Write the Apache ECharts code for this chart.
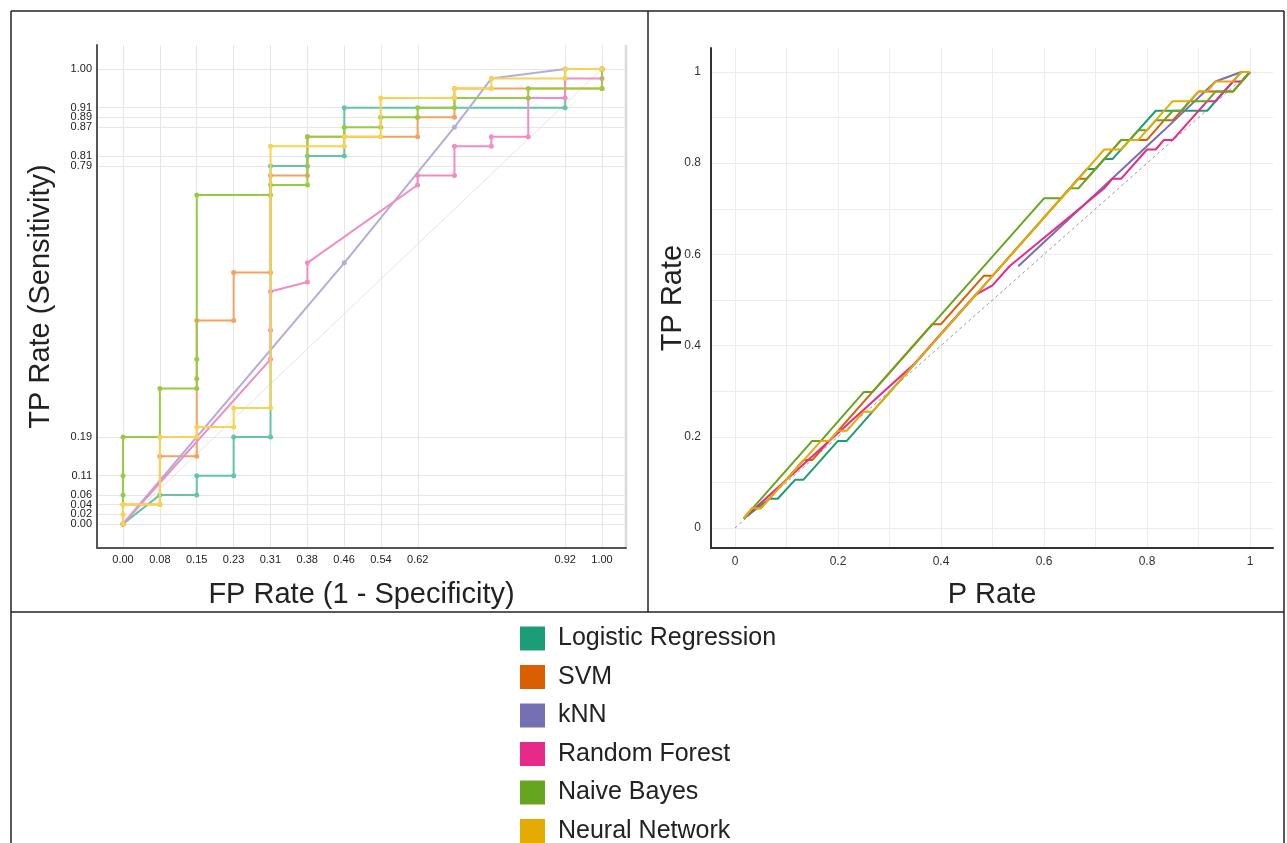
<!DOCTYPE html>
<html>
<head>
<meta charset="utf-8">
<script src="https://cdn.jsdelivr.net/npm/echarts@6/dist/echarts.min.js"></script>
<style>
  html, body { margin: 0; padding: 0; background: #fff; }
  #chart { width: 1287px; height: 843px; }
</style>
</head>
<body>
<div id="chart"></div>
<script>
// model names (legend order)
const models = ['Logistic Regression', 'SVM', 'kNN', 'Random Forest', 'Naive Bayes', 'Neural Network'];

// tick labels
const leftXTicks = [0, 0.0769, 0.1538, 0.2308, 0.3077, 0.3846, 0.4615, 0.5385, 0.6154, 0.9231, 1];
const leftYTicks = [0, 0.0213, 0.0426, 0.0638, 0.1064, 0.1915, 0.7872, 0.8085, 0.8723, 0.8936, 0.9149, 1];
const rightLabelTicks = [0, 0.2, 0.4, 0.6, 0.8, 1];
const rightGridTicks = [0, 0.1, 0.2, 0.3, 0.4, 0.5, 0.6, 0.7, 0.8, 0.9, 1];

// ROC points [FP rate, TP rate]
const rocLR = [[0,0],[.077,.064],[.154,.064],[.154,.106],[.231,.106],[.231,.191],[.308,.191],[.308,.787],[.385,.787],[.385,.809],[.462,.809],[.462,.915],[.923,.915],[.923,1],[1,1]];
const rocSVM = [[0,0],[0,.043],[.077,.043],[.077,.149],[.154,.149],[.154,.447],[.231,.447],[.231,.553],[.308,.553],[.308,.766],[.385,.766],[.385,.851],[.615,.851],[.615,.894],[.692,.894],[.692,.957],[1,.957],[1,1]];
const rocKNN = [[0,0],[.462,.574],[.692,.872],[.769,.979],[.923,1],[1,1]];
const rocRF = [[0,0],[.308,.362],[.308,.426],[.308,.511],[.385,.532],[.385,.574],[.615,.745],[.615,.766],[.692,.766],[.692,.830],[.769,.830],[.769,.851],[.846,.851],[.846,.936],[.923,.936],[.923,.979],[1,.979],[1,1]];
const rocNB = [[0,0],[0,.064],[0,.106],[0,.191],[.077,.191],[.077,.298],[.154,.298],[.154,.319],[.154,.362],[.154,.723],[.308,.723],[.308,.745],[.385,.745],[.385,.851],[.462,.851],[.462,.872],[.538,.872],[.538,.894],[.615,.894],[.615,.915],[.692,.915],[.692,.936],[.846,.936],[.846,.957],[1,.957],[1,1]];
const rocNN = [[0,0],[0,.021],[0,.043],[.077,.043],[.077,.191],[.154,.191],[.154,.213],[.231,.213],[.231,.255],[.308,.255],[.308,.830],[.462,.830],[.462,.851],[.538,.851],[.538,.936],[.692,.936],[.692,.957],[.769,.957],[.769,.979],[.923,.979],[.923,1],[1,1]];

// P rate vs TP rate curves
const gainLR = [[.017,.021],[.067,.064],[.083,.064],[.117,.106],[.133,.106],[.2,.191],[.217,.191],[.683,.787],[.7,.787],[.717,.809],[.733,.809],[.817,.915],[.917,.915],[.983,1],[1,1]];
const gainSVM = [[.017,.021],[.033,.043],[.05,.043],[.133,.149],[.15,.149],[.383,.447],[.4,.447],[.483,.553],[.5,.553],[.667,.766],[.683,.766],[.75,.851],[.8,.851],[.833,.894],[.85,.894],[.9,.957],[.967,.957],[1,1]];
const gainKNN = [[.55,.574],[.833,.872],[.933,.979],[.983,1],[1,1]];
const gainRF = [[.017,.021],[.35,.362],[.4,.426],[.467,.511],[.5,.532],[.533,.574],[.717,.745],[.733,.766],[.75,.766],[.8,.830],[.817,.830],[.833,.851],[.85,.851],[.917,.936],[.933,.936],[.967,.979],[.983,.979],[1,1]];
const gainNB = [[.017,.021],[.15,.191],[.167,.191],[.25,.298],[.267,.298],[.6,.723],[.633,.723],[.65,.745],[.667,.745],[.75,.851],[.767,.851],[.783,.872],[.8,.872],[.817,.894],[.833,.894],[.85,.915],[.867,.915],[.883,.936],[.917,.936],[.933,.957],[.967,.957],[1,1]];
const gainNN = [[.017,.021],[.033,.043],[.05,.043],[.167,.191],[.183,.191],[.2,.213],[.217,.213],[.25,.255],[.267,.255],[.717,.830],[.75,.830],[.767,.851],[.783,.851],[.85,.936],[.883,.936],[.9,.957],[.917,.957],[.933,.979],[.967,.979],[.983,1],[1,1]];

const diag = [[0,0],[1,1]];

const rocData = [rocLR, rocSVM, rocKNN, rocRF, rocNB, rocNN];
const gainData = [gainLR, gainSVM, gainKNN, gainRF, gainNB, gainNN];

// colours: Dark2 on the right / legend, lighter tones on the left
const darkColors = ['#1b9e77', '#d95f02', '#7570b3', '#e7298a', '#66a61e', '#e6ab02'];
const lightColors = ['#62c6a2', '#f4a263', '#b4addb', '#f08dc2', '#98cb45', '#f8d252'];

const font = '"Liberation Sans", Arial, sans-serif';
const lbl = v => (+v).toFixed(2);
const lblShort = v => String(+(+v).toFixed(1));

// the left y labels sit 10px apart, so they are split over two stacked axes
const leftYLabelsA = leftYTicks.filter((v, i) => i % 2 === 0);
const leftYLabelsB = leftYTicks.filter((v, i) => i % 2 === 1);

const chart = echarts.init(document.getElementById('chart'));

const series = [];
// left: faint chance line
series.push({
  type: 'line', xAxisIndex: 0, yAxisIndex: 0, data: diag, silent: true,
  symbol: 'none', lineStyle: { color: '#e4e4e4', width: 1 }, z: 1
});
rocData.forEach((d, i) => {
  series.push({
    name: models[i], type: 'line', xAxisIndex: 0, yAxisIndex: 0, data: d,
    symbol: 'circle', symbolSize: 5, showSymbol: true,
    itemStyle: { color: lightColors[i] },
    lineStyle: { color: lightColors[i], width: 2 }, z: 2 + i
  });
});
// right: dashed reference line
series.push({
  type: 'line', xAxisIndex: 1, yAxisIndex: 1, data: diag, silent: true,
  symbol: 'none', lineStyle: { color: '#9a9a9a', width: 1, type: [3, 3] }, z: 1
});
gainData.forEach((d, i) => {
  series.push({
    name: models[i], type: 'line', xAxisIndex: 1, yAxisIndex: 1, data: d,
    symbol: 'none', itemStyle: { color: darkColors[i] },
    lineStyle: { color: darkColors[i], width: 2 }, z: 2 + i
  });
});

const nameStyle = { fontSize: 29, color: '#222', fontFamily: font };
const leftLabel = { formatter: lbl, fontSize: 11, color: '#222', margin: 5, hideOverlap: false, showMinLabel: true, showMaxLabel: true };

const option = {
  animation: false,
  backgroundColor: '#fff',
  textStyle: { fontFamily: font },
  grid: [
    { left: 97, top: 45, width: 529, height: 503 },
    { left: 711, top: 48, width: 562, height: 500 }
  ],
  xAxis: [
    {
      gridIndex: 0, type: 'value', min: -0.0543, max: 1.0501,
      name: 'FP Rate (1 - Specificity)', nameLocation: 'middle', nameGap: 32, nameMoveOverlap: false,
      nameTextStyle: nameStyle,
      axisLine: { onZero: false, lineStyle: { color: '#555', width: 2 } },
      axisTick: { show: false, customValues: leftXTicks },
      axisLabel: Object.assign({}, leftLabel, { customValues: leftXTicks, margin: 6 }),
      splitLine: { show: true, lineStyle: { color: '#e6e6e6', width: 1 } }
    },
    {
      gridIndex: 1, type: 'value', min: -0.0466, max: 1.0447,
      name: 'P Rate', nameLocation: 'middle', nameGap: 32, nameMoveOverlap: false,
      nameTextStyle: nameStyle,
      axisLine: { onZero: false, lineStyle: { color: '#333', width: 2 } },
      axisTick: { show: false, customValues: rightGridTicks },
      axisLabel: { customValues: rightLabelTicks, formatter: lblShort, fontSize: 12, color: '#333', margin: 8 },
      splitLine: { show: true, lineStyle: { color: '#ececec', width: 1 } }
    }
  ],
  yAxis: [
    {
      gridIndex: 0, type: 'value', min: -0.0527, max: 1.0527,
      name: 'TP Rate (Sensitivity)', nameLocation: 'middle', nameGap: 42, nameMoveOverlap: false,
      nameTextStyle: nameStyle,
      axisLine: { onZero: false, lineStyle: { color: '#555', width: 2 } },
      axisTick: { show: false, customValues: leftYTicks },
      axisLabel: Object.assign({}, leftLabel, { customValues: leftYLabelsA }),
      splitLine: { show: true, lineStyle: { color: '#e6e6e6', width: 1 } }
    },
    {
      gridIndex: 1, type: 'value', min: -0.0439, max: 1.0526,
      name: 'TP Rate', nameLocation: 'middle', nameGap: 24, nameMoveOverlap: false,
      nameTextStyle: nameStyle,
      axisLine: { onZero: false, lineStyle: { color: '#333', width: 2 } },
      axisTick: { show: false, customValues: rightGridTicks },
      axisLabel: { customValues: rightLabelTicks, formatter: lblShort, fontSize: 12, color: '#333', margin: 10 },
      splitLine: { show: true, lineStyle: { color: '#ececec', width: 1 } }
    },
    {
      // second label row for the left chart
      gridIndex: 0, type: 'value', min: -0.0527, max: 1.0527, position: 'left',
      axisLine: { show: false },
      axisTick: { show: false, customValues: leftYLabelsB },
      axisLabel: Object.assign({}, leftLabel, { customValues: leftYLabelsB }),
      splitLine: { show: false }
    }
  ],
  legend: {
    orient: 'vertical', left: 515, top: 621, height: 300,
    icon: 'rect', itemWidth: 25, itemHeight: 24, itemGap: 13.5,
    selectedMode: false,
    textStyle: { fontSize: 25, lineHeight: 24, color: '#222', fontFamily: font, padding: [0, 0, 0, 8] },
    data: models.map((m, i) => ({ name: m, itemStyle: { color: darkColors[i] } }))
  },
  // panel frame
  graphic: [
    { type: 'line', shape: { x1: 11, y1: 11, x2: 1284, y2: 11 }, style: { stroke: '#222', lineWidth: 1.5 } },
    { type: 'line', shape: { x1: 11, y1: 11, x2: 11, y2: 843 }, style: { stroke: '#222', lineWidth: 1.5 } },
    { type: 'line', shape: { x1: 1284, y1: 11, x2: 1284, y2: 843 }, style: { stroke: '#222', lineWidth: 1.5 } },
    { type: 'line', shape: { x1: 648, y1: 11, x2: 648, y2: 612 }, style: { stroke: '#222', lineWidth: 1.5 } },
    { type: 'line', shape: { x1: 11, y1: 612, x2: 1284, y2: 612 }, style: { stroke: '#222', lineWidth: 1.5 } },
    { type: 'line', shape: { x1: 626, y1: 45, x2: 626, y2: 548 }, style: { stroke: '#dadada', lineWidth: 2.5 } }
  ],
  series: series
};

chart.setOption(option);
</script>
</body>
</html>
